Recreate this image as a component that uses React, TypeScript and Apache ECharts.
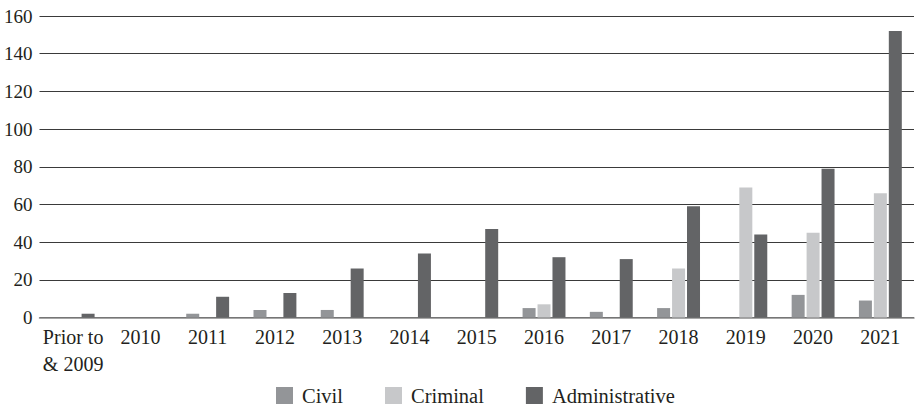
import React, { useEffect, useRef } from "react";
import * as echarts from "echarts";

const categories = ["Prior to\n& 2009", "2010", "2011", "2012", "2013", "2014", "2015", "2016", "2017", "2018", "2019", "2020", "2021"];
const civil = [0, 0, 2, 4, 4, 0, 0, 5, 3, 5, 0, 12, 9];
const criminal = [0, 0, 0, 0, 0, 0, 0, 7, 0, 26, 69, 45, 66];
const administrative = [2, 0, 11, 13, 26, 34, 47, 32, 31, 59, 44, 79, 152];
const seriesNames = ["Civil", "Criminal", "Administrative"];
const colors = ["#939598", "#c7c8ca", "#636466"];

const FONT = "Liberation Serif";
const TEXT = "#231f20";

export default function App() {
  const ref = useRef<HTMLDivElement>(null);
  useEffect(() => {
    if (!ref.current) return;
    const chart = echarts.init(ref.current, undefined, { renderer: "svg" });
    const data = [civil, criminal, administrative];
    chart.setOption({
      animation: false,
      textStyle: { fontFamily: FONT },
      grid: { left: 39.5, right: 3, top: 16, bottom: 90.5, containLabel: false },
      legend: {
        top: 380,
        left: 271,
        itemWidth: 17,
        itemHeight: 17,
        itemGap: 42,
        icon: "rect",
        textStyle: { fontFamily: FONT, fontSize: 20.5, lineHeight: 17, color: TEXT, padding: [0, 0, 0, 4] },
        data: seriesNames,
      },
      xAxis: {
        type: "category",
        data: categories,
        axisLine: { lineStyle: { color: "#8a8a8a", width: 1.5 } },
        axisTick: { show: false },
        axisLabel: {
          interval: 0,
          margin: 6,
          fontFamily: FONT,
          fontSize: 20,
          color: TEXT,
          lineHeight: 27,
          formatter: (v: string) =>
            v.indexOf("\n") >= 0
              ? v.split("\n").map((s) => `{l|${s}}`).join("\n")
              : v,
          rich: { l: { align: "left", fontFamily: FONT, fontSize: 20, color: TEXT, lineHeight: 27 } },
        },
      },
      yAxis: {
        type: "value",
        min: 0,
        max: 160,
        interval: 20,
        axisLine: { show: false },
        axisTick: { show: false },
        splitLine: { lineStyle: { color: "#3a3a3a", width: 1 } },
        axisLabel: { fontFamily: FONT, fontSize: 19, color: TEXT, margin: 7 },
      },
      series: seriesNames.map((name, i) => ({
        name,
        type: "bar",
        data: data[i],
        barWidth: 13,
        barGap: "15%",
        itemStyle: { color: colors[i] },
      })),
    });
    return () => chart.dispose();
  }, []);
  return (
    <div
      ref={ref}
      style={{ position: "fixed", left: 0, top: 0, width: 917, height: 408, background: "#fff" }}
    />
  );
}
